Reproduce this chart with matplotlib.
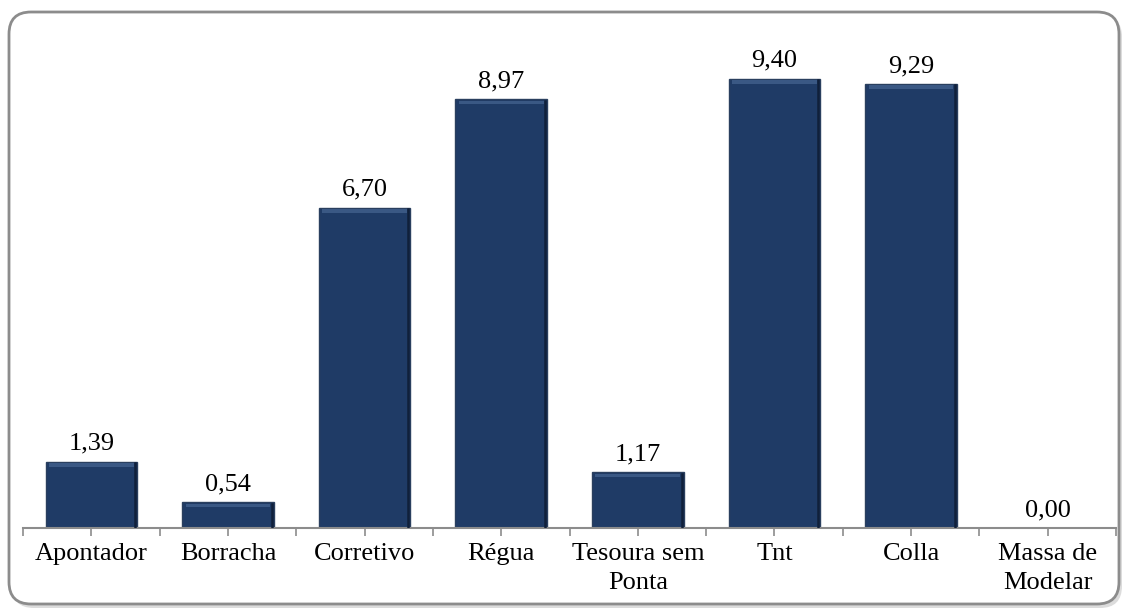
import numpy as np
import matplotlib
matplotlib.use('Agg')
import matplotlib.pyplot as plt
from matplotlib.patches import FancyBboxPatch

categorias = ['Apontador', 'Borracha', 'Corretivo', 'Régua', 'Tesoura sem\nPonta',
              'Tnt', 'Colla', 'Massa de\nModelar']
valores = [1.39, 0.54, 6.70, 8.97, 1.17, 9.40, 9.29, 0.00]

W, H = 1124, 610
plt.rcParams['font.family'] = ['Liberation Serif', 'DejaVu Serif']
fs = 19

fig = plt.figure(figsize=(W / 100, H / 100), dpi=100)

# background panel with rounded border, drawn in pixel units
bg = fig.add_axes([0, 0, 1, 1], zorder=0)
bg.set_xlim(0, W)
bg.set_ylim(H, 0)
bg.axis('off')
sombra = FancyBboxPatch((12, 15), 1110, 593, boxstyle='round,pad=0,rounding_size=22',
                        facecolor='#dcdcdc', edgecolor='none')
bg.add_patch(sombra)
moldura = FancyBboxPatch((9, 12), 1110, 592, boxstyle='round,pad=0,rounding_size=22',
                         facecolor='white', edgecolor='#8c8c8c', linewidth=2)
bg.add_patch(moldura)

ax = fig.add_axes([23 / W, 1 - 528 / H, 1093 / W, 478 / H], zorder=1)
ax.patch.set_alpha(0)
x = np.arange(len(categorias))
cor = '#1f3b66'
largura = 0.67

barras = ax.bar(x, valores, width=largura, color=cor, edgecolor='#2a3f5e', linewidth=1.0, zorder=2)

# soft bevel: light strip at the top, darker strip on the right side
for b, v in zip(barras, valores):
    if v <= 0:
        continue
    x0 = b.get_x()
    w = b.get_width()
    ax.fill_between([x0 + 0.025, x0 + w - 0.025], v - 0.11, v - 0.03,
                    color='#3a5884', linewidth=0, zorder=3)
    ax.plot([x0 + w - 0.015, x0 + w - 0.015], [0, v - 0.03], color='#10203a',
            linewidth=1.8, zorder=3)

for xi, v in zip(x, valores):
    ax.annotate(f'{v:.2f}'.replace('.', ','), (xi, v), xytext=(0, 5),
                textcoords='offset points', ha='center', va='bottom',
                fontsize=fs, color='black')

ax.set_xlim(-0.5, len(categorias) - 0.5)
ax.set_ylim(0, 10)
ax.set_xticks(x)
ax.set_xticklabels(categorias, fontsize=fs, linespacing=1.4)
ax.set_xticks(np.arange(-0.5, len(categorias)), minor=True)
ax.tick_params(axis='x', which='both', length=6, width=1.2, color='#8c8c8c', pad=5)
ax.set_yticks([])
for s in ['top', 'right', 'left']:
    ax.spines[s].set_visible(False)
ax.spines['bottom'].set_color('#8c8c8c')
ax.spines['bottom'].set_linewidth(1.5)

fig.savefig('out.png', dpi=100)
